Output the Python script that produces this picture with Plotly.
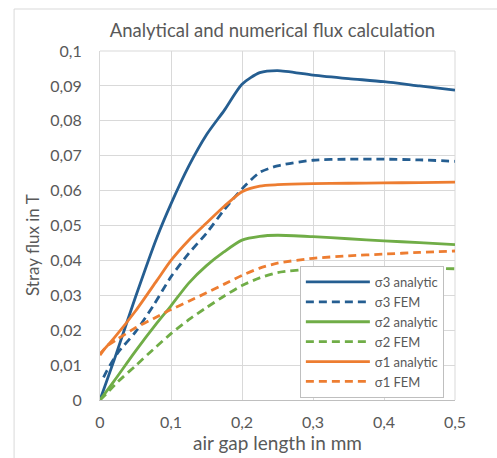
import plotly.graph_objects as go

# ---- data ----
x_analytic = [0, 0.02, 0.05, 0.08, 0.1, 0.125, 0.15, 0.175, 0.2, 0.225, 0.25, 0.3, 0.35, 0.4, 0.45, 0.5]
sigma3_analytic = [0, 0.0115, 0.0295, 0.0465, 0.0562, 0.067, 0.076, 0.083, 0.0905, 0.0938, 0.0944, 0.0931, 0.0921, 0.0912, 0.0900, 0.0888]
sigma2_analytic = [0, 0.0055, 0.014, 0.022, 0.027, 0.0335, 0.0385, 0.0425, 0.0458, 0.0469, 0.0472, 0.0468, 0.0462, 0.0456, 0.0451, 0.0445]
sigma1_analytic = [0.0132, 0.0178, 0.0255, 0.0342, 0.0400, 0.0458, 0.0507, 0.0555, 0.0597, 0.0613, 0.0617, 0.0620, 0.0621, 0.0622, 0.0623, 0.0624]

x_fem = [0.005, 0.01, 0.025, 0.05, 0.075, 0.1, 0.125, 0.15, 0.175, 0.2, 0.225, 0.25, 0.3, 0.35, 0.4, 0.45, 0.5]
sigma3_fem = [0.0065, 0.0085, 0.0135, 0.0195, 0.027, 0.0353, 0.042, 0.0478, 0.0545, 0.0605, 0.0652, 0.0671, 0.0687, 0.0690, 0.0690, 0.0688, 0.0684]
x_fem0 = [0, 0.01, 0.025, 0.05, 0.075, 0.1, 0.125, 0.15, 0.175, 0.2, 0.225, 0.25, 0.3, 0.35, 0.4, 0.45, 0.5]
sigma2_fem = [0, 0.002, 0.0052, 0.0098, 0.0145, 0.019, 0.023, 0.0265, 0.0298, 0.0328, 0.035, 0.0365, 0.0376, 0.0379, 0.0379, 0.0378, 0.0376]
sigma1_fem = [0.0128, 0.0155, 0.0175, 0.0207, 0.0233, 0.0259, 0.0283, 0.0307, 0.0332, 0.0357, 0.0378, 0.0392, 0.0406, 0.0413, 0.0418, 0.0423, 0.0427]

x_ticks = [0, 0.1, 0.2, 0.3, 0.4, 0.5]

BLUE = "#255E91"
GREEN = "#70AD47"
ORANGE = "#ED7D31"
TEXT = "#595959"
FONT = "Lato, 'Open Sans', sans-serif"

series = [
    ("σ3 analytic", x_analytic, sigma3_analytic, BLUE, "solid"),
    ("σ3 FEM", x_fem, sigma3_fem, BLUE, "8px,5px"),
    ("σ2 analytic", x_analytic, sigma2_analytic, GREEN, "solid"),
    ("σ2 FEM", x_fem0, sigma2_fem, GREEN, "8px,5px"),
    ("σ1 analytic", x_analytic, sigma1_analytic, ORANGE, "solid"),
    ("σ1 FEM", x_fem0, sigma1_fem, ORANGE, "8px,5px"),
]

fig = go.Figure()
for name, xs, ys, color, dash in series:
    fig.add_trace(go.Scatter(
        x=xs, y=ys, name=name, mode="lines",
        line=dict(color=color, width=2.8, dash=dash, shape="spline", smoothing=0.7),
    ))

fig.update_layout(
    width=497, height=458,
    margin=dict(l=100, r=42, t=51, b=58, autoexpand=False),
    paper_bgcolor="white", plot_bgcolor="white",
    separators=", ",
    font=dict(family=FONT, color=TEXT, size=15),
    title=dict(text="Analytical and numerical flux calculation",
               font=dict(family=FONT, size=18.5, color=TEXT),
               x=0.548, xanchor="center", y=1 - 31 / 458, yanchor="middle"),
    showlegend=True,
    legend=dict(x=0.563, y=(400 - 398) / 349, xanchor="left", yanchor="bottom",
                bgcolor="white", bordercolor="#BFBFBF", borderwidth=1,
                font=dict(family=FONT, size=13, color=TEXT),
                itemwidth=64, tracegroupgap=0),
    xaxis=dict(range=[0, 0.5], tickvals=x_ticks, showgrid=True, gridcolor="#D9D9D9",
               zeroline=False, showline=True, linecolor="#BFBFBF", linewidth=1,
               automargin=False,
               ticks="", ticklabelstandoff=8, tickfont=dict(size=16, color=TEXT),
               title=dict(text="air gap length in mm", font=dict(size=19, color=TEXT), standoff=1)),
    yaxis=dict(range=[0, 0.1], dtick=0.01, showgrid=True, gridcolor="#D9D9D9",
               zeroline=False, showline=True, linecolor="#D9D9D9", linewidth=1,
               automargin=False,
               ticks="", ticklabelstandoff=14, tickfont=dict(size=16, color=TEXT)),
    shapes=[
        dict(type="rect", xref="paper", yref="paper", x0=-0.242, x1=1.3, y0=-0.3, y1=1.1203,
             line=dict(color="#D9D9D9", width=1), fillcolor="rgba(0,0,0,0)", layer="below"),
        dict(type="line", xref="paper", yref="paper", x0=0, x1=1, y0=1, y1=1,
             line=dict(color="#D9D9D9", width=1), layer="below"),
        dict(type="line", xref="paper", yref="paper", x0=1, x1=1, y0=0, y1=1,
             line=dict(color="#D9D9D9", width=1), layer="below"),
    ],
    annotations=[
        dict(text="Stray flux in T", xref="paper", yref="paper",
             x=(32 - 100) / 355, y=(400 - 245) / 349, textangle=-90,
             showarrow=False, font=dict(family=FONT, size=17, color=TEXT),
             xanchor="center", yanchor="middle"),
    ],
)

fig.write_html("out.html")
